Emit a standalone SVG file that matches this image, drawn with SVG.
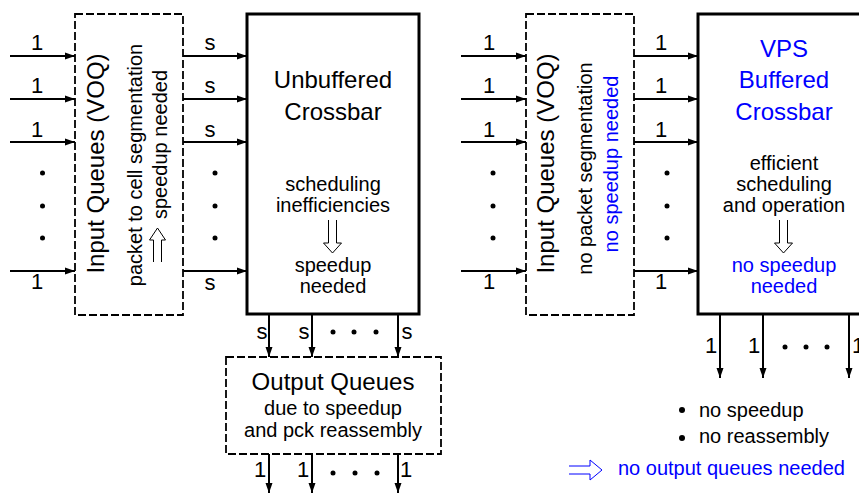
<svg xmlns="http://www.w3.org/2000/svg" width="859" height="493" viewBox="0 0 859 493">
<defs>
<marker id="ah" markerUnits="userSpaceOnUse" markerWidth="11" markerHeight="8" refX="10" refY="4" orient="auto">
<path d="M0,0.5 L10,4 L0,7.5 z" fill="#000"/>
</marker>
<style>
text{font-family:"Liberation Sans",Arial,sans-serif;fill:#000}
.big{font-size:24px;text-anchor:middle}
.med{font-size:20px;text-anchor:middle}
.lab{font-size:22px;text-anchor:middle}
.blue{fill:#0000ff}
.dash{fill:#fff;stroke:#000;stroke-width:1.8;stroke-dasharray:8,3}
.box{fill:#fff;stroke:#000;stroke-width:3}
.con{stroke:#000;stroke-width:2;fill:none;marker-end:url(#ah)}
.hol{fill:none;stroke:#000;stroke-width:1}
</style>
</defs>
<rect width="859" height="493" fill="#fff"/>

<g id="left-input-queues">
<rect class="dash" x="75" y="14" width="108" height="301"/>
<text class="big" transform="translate(104,163.5) rotate(-90)">Input Queues (VOQ)</text>
<text class="med" transform="translate(142,165) rotate(-90)">packet to cell segmentation</text>
<text class="med" transform="translate(167,144.5) rotate(-90)">speedup needed</text>
<path class="hol" d="M153.5,262 V240 H149.5 L157.5,228 L165.5,240 H161.5 V262"/>
</g>

<g id="left-crossbar">
<rect class="box" x="247" y="14" width="172" height="300"/>
<text class="big" x="333" y="88">Unbuffered</text>
<text class="big" x="333" y="120">Crossbar</text>
<text class="med" x="333" y="191">scheduling</text>
<text class="med" x="333" y="212">inefficiencies</text>
<path class="hol" d="M328.5,220 V243 H323.5 L332.5,253 L341.5,243 H336.5 V220"/>
<text class="med" x="333" y="272">speedup</text>
<text class="med" x="333" y="293">needed</text>
</g>

<g id="output-queues">
<rect class="dash" x="226" y="357" width="215" height="97"/>
<text class="big" x="333" y="390">Output Queues</text>
<text class="med" x="333" y="415">due to speedup</text>
<text class="med" x="333" y="437">and pck reassembly</text>
</g>

<g id="right-input-queues">
<rect class="dash" x="526" y="14" width="108" height="301"/>
<text class="big" transform="translate(554,163.5) rotate(-90)">Input Queues (VOQ)</text>
<text class="med" transform="translate(592,168.5) rotate(-90)">no packet segmentation</text>
<text class="med blue" transform="translate(618,164) rotate(-90)">no speedup needed</text>
</g>

<g id="right-crossbar">
<rect class="box" x="698" y="14" width="172" height="300"/>
<text class="big blue" x="784" y="57">VPS</text>
<text class="big blue" x="784" y="88">Buffered</text>
<text class="big blue" x="784" y="120">Crossbar</text>
<text class="med" x="784" y="170">efficient</text>
<text class="med" x="784" y="191">scheduling</text>
<text class="med" x="784" y="212">and operation</text>
<path class="hol" d="M779.5,220 V243 H774.5 L783.5,253 L792.5,243 H787.5 V220"/>
<text class="med blue" x="784" y="272">no speedup</text>
<text class="med blue" x="784" y="293">needed</text>
</g>

<g id="notes">
<circle cx="682" cy="410" r="3"/>
<text x="699" y="417" style="font-size:20px">no speedup</text>
<circle cx="682" cy="438" r="3"/>
<text x="699" y="443" style="font-size:20px">no reassembly</text>
<path d="M569,466 H590 V460 L602,470 L590,480 V474 H569" fill="none" stroke="#0000ff" stroke-width="1"/>
<text class="blue" x="618" y="475" style="font-size:20px">no output queues needed</text>
</g>

<g id="connectors">
<line class="con" x1="10" y1="56" x2="75" y2="56"/>
<line class="con" x1="10" y1="99" x2="75" y2="99"/>
<line class="con" x1="10" y1="142" x2="75" y2="142"/>
<line class="con" x1="10" y1="271" x2="75" y2="271"/>
<line class="con" x1="183" y1="56" x2="247" y2="56"/>
<line class="con" x1="183" y1="99" x2="247" y2="99"/>
<line class="con" x1="183" y1="142" x2="247" y2="142"/>
<line class="con" x1="183" y1="271" x2="247" y2="271"/>
<line class="con" x1="269" y1="315" x2="269" y2="357"/>
<line class="con" x1="312" y1="315" x2="312" y2="357"/>
<line class="con" x1="398" y1="315" x2="398" y2="357"/>
<line class="con" x1="269" y1="454" x2="269" y2="493"/>
<line class="con" x1="312" y1="454" x2="312" y2="493"/>
<line class="con" x1="398" y1="454" x2="398" y2="493"/>
<line class="con" x1="461" y1="56" x2="526" y2="56"/>
<line class="con" x1="461" y1="99" x2="526" y2="99"/>
<line class="con" x1="461" y1="142" x2="526" y2="142"/>
<line class="con" x1="461" y1="271" x2="526" y2="271"/>
<line class="con" x1="634" y1="56" x2="698" y2="56"/>
<line class="con" x1="634" y1="99" x2="698" y2="99"/>
<line class="con" x1="634" y1="142" x2="698" y2="142"/>
<line class="con" x1="634" y1="271" x2="698" y2="271"/>
<line class="con" x1="720" y1="315" x2="720" y2="378"/>
<line class="con" x1="763" y1="315" x2="763" y2="378"/>
<line class="con" x1="849" y1="315" x2="849" y2="378"/>

<g class="labels">
<text class="lab" x="37" y="50">1</text>
<text class="lab" x="37" y="93">1</text>
<text class="lab" x="37" y="137">1</text>
<text class="lab" x="37" y="289">1</text>
<text class="lab" x="210" y="50">s</text>
<text class="lab" x="210" y="93">s</text>
<text class="lab" x="210" y="137">s</text>
<text class="lab" x="210" y="290">s</text>
<text class="lab" x="262" y="339">s</text>
<text class="lab" x="304" y="339">s</text>
<text class="lab" x="407" y="339">s</text>
<text class="lab" x="260" y="477">1</text>
<text class="lab" x="303" y="477">1</text>
<text class="lab" x="406" y="477">1</text>
<text class="lab" x="489" y="50">1</text>
<text class="lab" x="489" y="93">1</text>
<text class="lab" x="489" y="137">1</text>
<text class="lab" x="489" y="289">1</text>
<text class="lab" x="661" y="50">1</text>
<text class="lab" x="661" y="93">1</text>
<text class="lab" x="661" y="137">1</text>
<text class="lab" x="661" y="289">1</text>
<text class="lab" x="711" y="353">1</text>
<text class="lab" x="754" y="353">1</text>
<text class="lab" x="858" y="353">1</text>
</g>
<g class="dots" fill="#000">
<circle cx="42.5" cy="173" r="2.5"/><circle cx="42.5" cy="206" r="2.5"/><circle cx="42.5" cy="238" r="2.5"/>
<circle cx="215" cy="173" r="2.5"/><circle cx="215" cy="206" r="2.5"/><circle cx="215" cy="238" r="2.5"/>
<circle cx="493" cy="173" r="2.5"/><circle cx="493" cy="206" r="2.5"/><circle cx="493" cy="238" r="2.5"/>
<circle cx="667" cy="173" r="2.5"/><circle cx="667" cy="206" r="2.5"/><circle cx="667" cy="238" r="2.5"/>
<circle cx="333" cy="332" r="2.5"/><circle cx="354" cy="332" r="2.5"/><circle cx="376" cy="332" r="2.5"/>
<circle cx="333" cy="473" r="2.5"/><circle cx="355" cy="473" r="2.5"/><circle cx="377" cy="473" r="2.5"/>
<circle cx="785" cy="347" r="2.5"/><circle cx="806" cy="347" r="2.5"/><circle cx="827" cy="347" r="2.5"/>
</g>
</g>
</svg>
